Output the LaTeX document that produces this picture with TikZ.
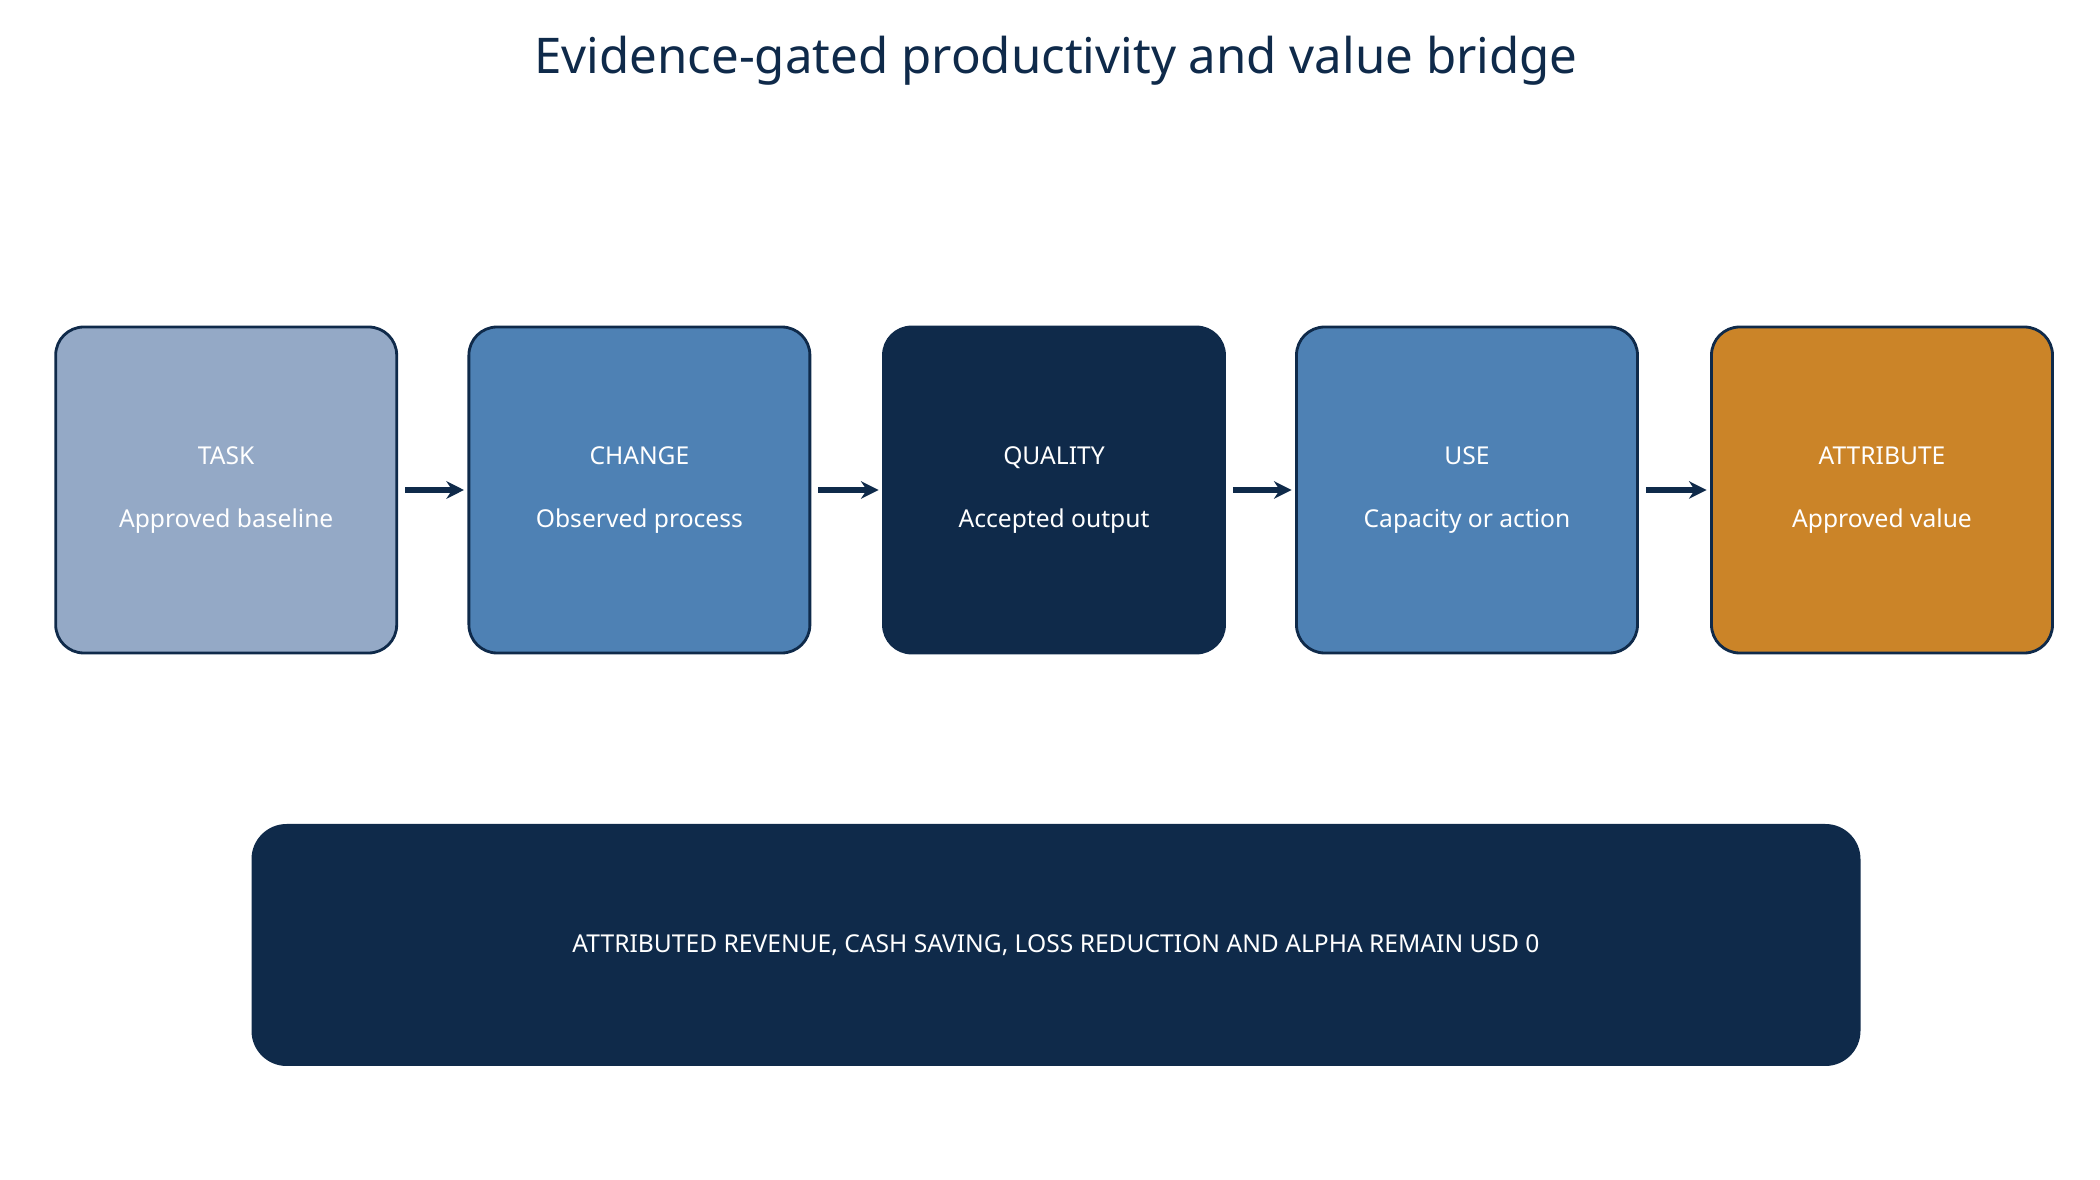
\documentclass[tikz,border=0pt]{standalone}
\usepackage{fontspec}
\setmainfont{Noto Sans}
\usetikzlibrary{arrows.meta}
\definecolor{navy}{HTML}{0F2A4A}
\definecolor{pale}{HTML}{94A9C6}
\definecolor{mid}{HTML}{4E81B4}
\definecolor{amber}{HTML}{CB8428}
\tikzset{stage/.style={rectangle, rounded corners=8pt, minimum width=3.41cm, minimum height=3.26cm, draw=navy, line width=0.8pt, text=white, align=center, font=\fontsize{7}{9}\selectfont\bfseries},
  arrow/.style={line width=1.6pt, navy, -{Stealth[length=5pt,width=5pt]}, shorten <=2pt, shorten >=1pt}}
\begin{document}
\begin{tikzpicture}
  \useasboundingbox (0,0) rectangle (21,11.8);
  \node (title) at (10.56,11.19) [text=navy, font=\fontsize{14}{16}\selectfont\bfseries] {Evidence-gated productivity and value bridge};

  \node (task) [stage, fill=pale] at (2.262,6.9) {TASK\\[9pt]Approved baseline};
  \node (change) [stage, fill=mid] at (6.394,6.9) {CHANGE\\[9pt]Observed process};
  \node (quality) [stage, fill=navy] at (10.54,6.9) {QUALITY\\[9pt]Accepted output};
  \node (use) [stage, fill=mid] at (14.67,6.9) {USE\\[9pt]Capacity or action};
  \node (attribute) [stage, fill=amber] at (18.82,6.9) {ATTRIBUTE\\[9pt]Approved value};

  \draw[arrow] (task) -- (change);
  \draw[arrow] (change) -- (quality);
  \draw[arrow] (quality) -- (use);
  \draw[arrow] (use) -- (attribute);

  \node (note) [rectangle, rounded corners=10pt, fill=navy, minimum width=16.09cm, minimum height=2.42cm, text=white, font=\fontsize{7}{9}\selectfont\bfseries] at (10.56,2.35) {ATTRIBUTED REVENUE, CASH SAVING, LOSS REDUCTION AND ALPHA REMAIN USD 0};
\end{tikzpicture}
\end{document}
